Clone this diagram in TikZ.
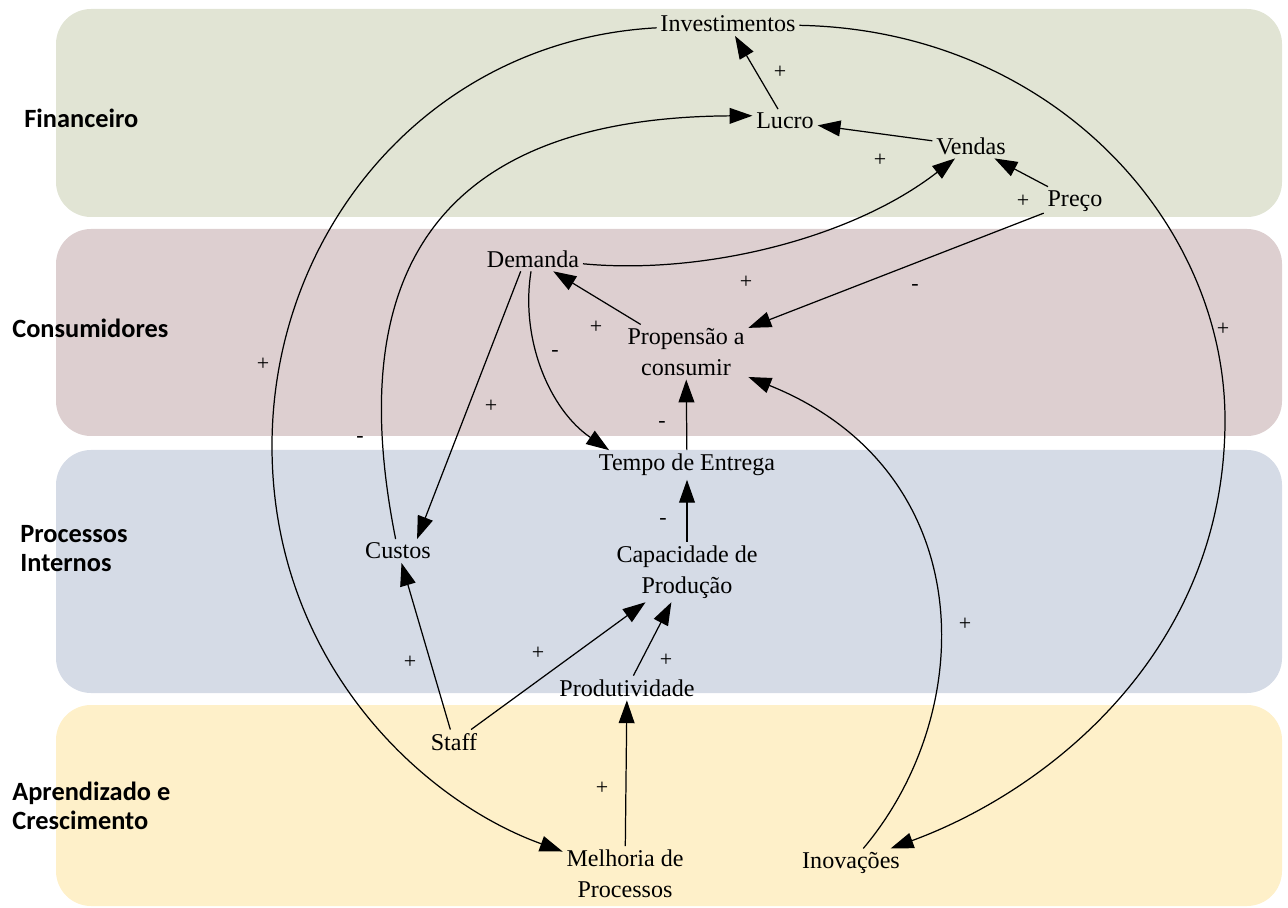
\documentclass[tikz,border=0pt]{standalone}
\usepackage{fontspec}
\setmainfont{Liberation Serif}
\newfontfamily\bandfont{Carlito}
\usetikzlibrary{arrows.meta}
\definecolor{fincol}{HTML}{E1E4D4}
\definecolor{concol}{HTML}{DDCFD0}
\definecolor{procol}{HTML}{D5DBE6}
\definecolor{aprcol}{HTML}{FEF0C9}
\begin{document}
\begin{tikzpicture}[x=0.02cm,y=-0.02cm,
  nd/.style={font=\fontsize{13.7}{17.6}\selectfont, align=center, inner sep=2pt},
  pol/.style={font=\fontsize{12.5}{14}\selectfont, inner sep=0pt},
  band/.style={rounded corners=0.7cm},
  bandlabel/.style={font=\bandfont\bfseries\fontsize{15}{16.5}\selectfont, align=left, anchor=west, inner sep=0pt},
  arr/.style={draw, line width=0.7pt, -{Triangle[length=13pt,width=9pt]}}]
\useasboundingbox (0,0) rectangle (1288,908);

% perspective bands
\fill[fincol, band] (56,9) rectangle (1282,217);
\fill[concol, band] (56,229) rectangle (1282,436);
\fill[procol, band] (56,450) rectangle (1282,693);
\fill[aprcol, band] (56,705) rectangle (1282,906);

\node[bandlabel] (lfin) at (24,118) {Financeiro};
\node[bandlabel] (lcon) at (12,328) {Consumidores};
\node[bandlabel] (lpro) at (20,549) {Processos\\Internos};
\node[bandlabel] (lapr) at (12,806) {Aprendizado e\\Crescimento};

% variables
\node[nd] (inv) at (728,24) {Investimentos};
\node[nd] (lucro) at (785,121) {Lucro};
\node[nd] (vendas) at (971,146) {Vendas};
\node[nd] (preco) at (1075,201) {Preço};
\node[nd] (demanda) at (533,259) {Demanda};
\node[nd] (prop) at (686,352) {Propensão a\\consumir};
\node[nd] (tempo) at (687,465) {Tempo de Entrega};
\node[nd] (custos) at (398,551) {Custos};
\node[nd] (cap) at (687,572) {Capacidade de\\Produção};
\node[nd] (prodt) at (627,688) {Produtividade};
\node[nd] (staff) at (454,742) {Staff};
\node[nd] (melh) at (625,874) {Melhoria de\\Processos};
\node[nd] (inov) at (851,863) {Inovações};

\coordinate (wl) at (272,446);
\coordinate (wr) at (1225,420);

% causal links
\draw[arr] (lucro) -- (inv);
\draw[arr] (vendas) -- (lucro);
\draw[arr] (preco) -- (vendas);
\draw[arr] (demanda) .. controls (700,275) and (850,240) .. (vendas);
\draw[arr] (preco) -- (prop);
\draw[arr] (prop) -- (demanda);
\draw[arr] (demanda) .. controls (520,340) and (550,410) .. ([xshift=8pt]tempo.north west);
\draw[arr] ([xshift=-7pt]demanda.south) -- ([xshift=-10pt]custos.north east);
\draw[arr] (tempo) -- (prop);
\draw[arr] (custos) .. controls (358,350) and (372,118) .. ([yshift=3pt]lucro.west);
\draw[arr] (inv) .. controls (430,40) and (272,230) .. (wl) .. controls (272,660) and (420,800) .. (melh);
\draw[arr] (inv) .. controls (1050,30) and (1225,220) .. (wr) .. controls (1225,650) and (1050,790) .. (inov);
\draw[arr] (cap) -- (tempo);
\draw[arr] (staff) -- (custos);
\draw[arr] (staff) -- (cap);
\draw[arr] (prodt) -- (cap);
\draw[arr] (melh) -- (prodt);
\draw[arr] (inov) .. controls (980,710) and (980,470) .. (prop);

% polarities
\node[pol] (p1) at (780,72) {+};
\node[pol] (p2) at (880,160) {+};
\node[pol] (p3) at (1023,201) {+};
\node[pol] (p4) at (746,282) {+};
\node[pol] (p5) at (915,288) {-};
\node[pol] (p6) at (596,327) {+};
\node[pol] (p7) at (555,354) {-};
\node[pol] (p8) at (491,406) {+};
\node[pol] (p9) at (662,425) {-};
\node[pol] (p10) at (360,440) {-};
\node[pol] (p11) at (263,364) {+};
\node[pol] (p12) at (1223,329) {+};
\node[pol] (p13) at (663,522) {-};
\node[pol] (p14) at (410,662) {+};
\node[pol] (p15) at (538,653) {+};
\node[pol] (p16) at (666,660) {+};
\node[pol] (p17) at (602,788) {+};
\node[pol] (p18) at (965,624) {+};
\end{tikzpicture}
\end{document}
